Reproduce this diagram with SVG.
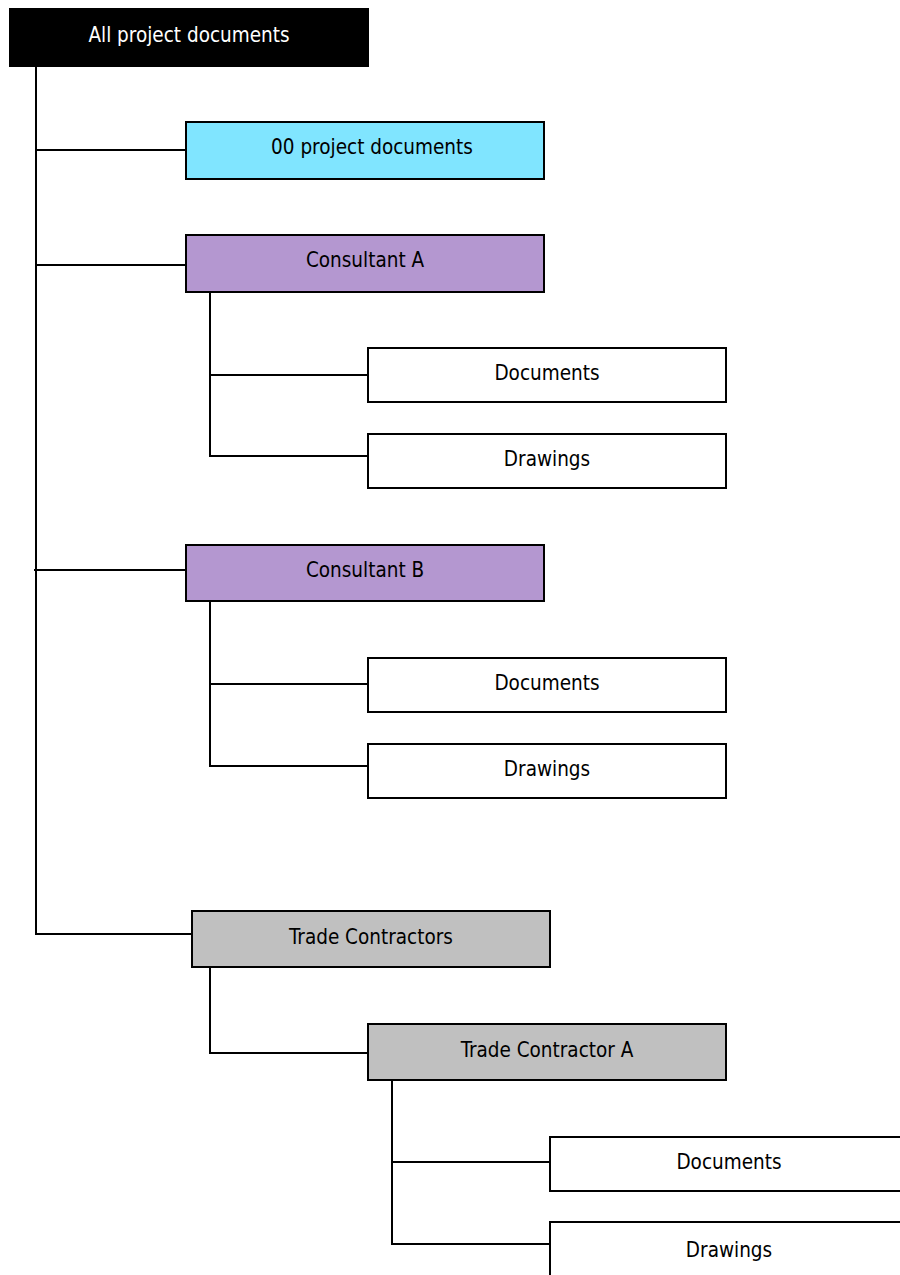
<svg xmlns="http://www.w3.org/2000/svg" width="900" height="1275" viewBox="0 0 900 1275">
<style>
.box{stroke:#000;stroke-width:2}
.t{font-family:"DejaVu Sans Condensed","DejaVu Sans",sans-serif;font-size:20.5px;text-anchor:middle;fill:#000}
.w{fill:#fff}
.c{fill:none;stroke:#000;stroke-width:2}
</style>
<rect width="900" height="1275" fill="#fff"/>
<g id="connectors">
<path class="c" d="M36 67V934H192"/>
<path class="c" d="M36 150H186M36 265H186M34 570H186"/>
<path class="c" d="M210 292V456H368M210 375H368"/>
<path class="c" d="M210 601V766H368M210 684H368"/>
<path class="c" d="M210 967V1053H368"/>
<path class="c" d="M392 1080V1244H550M392 1162H550"/>
</g>
<g id="root"><rect x="9" y="8" width="360" height="59" fill="#000"/><text class="t w" x="189" y="42">All project documents</text></g>
<g id="n00"><rect class="box" x="186" y="122" width="358" height="57" fill="#80e5ff"/><text class="t" x="372" y="154">00 project documents</text></g>
<g id="consA"><rect class="box" x="186" y="235" width="358" height="57" fill="#b497d0"/><text class="t" x="365" y="267">Consultant A</text></g>
<g id="consA-docs"><rect class="box" x="368" y="348" width="358" height="54" fill="#fff"/><text class="t" x="547" y="380">Documents</text></g>
<g id="consA-draw"><rect class="box" x="368" y="434" width="358" height="54" fill="#fff"/><text class="t" x="547" y="466">Drawings</text></g>
<g id="consB"><rect class="box" x="186" y="545" width="358" height="56" fill="#b497d0"/><text class="t" x="365" y="577">Consultant B</text></g>
<g id="consB-docs"><rect class="box" x="368" y="658" width="358" height="54" fill="#fff"/><text class="t" x="547" y="690">Documents</text></g>
<g id="consB-draw"><rect class="box" x="368" y="744" width="358" height="54" fill="#fff"/><text class="t" x="547" y="776">Drawings</text></g>
<g id="trade"><rect class="box" x="192" y="911" width="358" height="56" fill="#c0c0c0"/><text class="t" x="371" y="944">Trade Contractors</text></g>
<g id="tradeA"><rect class="box" x="368" y="1024" width="358" height="56" fill="#c0c0c0"/><text class="t" x="547" y="1057">Trade Contractor A</text></g>
<g id="tradeA-docs"><rect class="box" x="550" y="1137" width="358" height="54" fill="#fff"/><text class="t" x="729" y="1169">Documents</text></g>
<g id="tradeA-draw"><rect class="box" x="550" y="1222" width="358" height="60" fill="#fff"/><text class="t" x="729" y="1257">Drawings</text></g>
</svg>
